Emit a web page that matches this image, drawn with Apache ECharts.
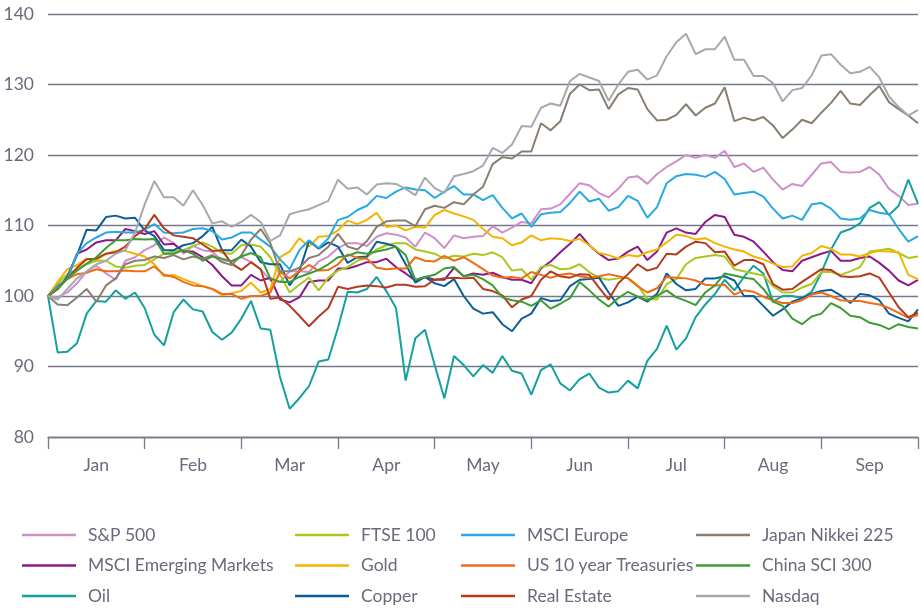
<!DOCTYPE html>
<html>
<head>
<meta charset="utf-8">
<script src="https://cdn.jsdelivr.net/npm/echarts@6/dist/echarts.min.js"></script>
<style>
html,body{margin:0;padding:0;background:#fff;}
#chart{width:921px;height:608px;}
</style>
</head>
<body>
<div id="chart"></div>
<script>
const months = ['Jan','Feb','Mar','Apr','May','Jun','Jul','Aug','Sep'];
const yTicks = [80, 90, 100, 110, 120, 130, 140];

// 10 observations per month, index 0..90
const sp500 = [100,99.8,100.5,101.8,103.5,104.3,103.2,102.3,105,105.5,106.5,107.2,108.3,107.5,106,107.1,106.5,106.3,105,105,105.5,104.8,103.8,102.2,102,103.5,103.5,103.4,104.9,105.6,106.8,107.5,107.5,107.1,108.4,108.9,108.7,108.3,107,109,108.2,106.8,108.6,108.2,108.4,108.5,109.9,109,109.7,110.5,110.3,112.3,112.4,113,114.5,116,115.7,114.6,114,115.2,116.8,117,115.9,117.3,118.3,119.1,120,119.6,120,119.6,120.6,118.3,118.8,117.6,118.2,116.5,115.1,115.9,115.6,117.2,118.8,119,117.6,117.5,117.6,118.3,117.2,115.2,114.2,112.9,113.1];
const msciEM = [100,101,102.5,106,106.6,107.6,107.9,107.9,109.5,109.2,108.8,109.2,107.3,107.4,106.3,106.3,105.5,104.4,102.8,101.5,101.5,103,102.2,102.6,99.5,99.1,99.8,102,102.2,102.2,103.9,103.9,104.3,104.8,104.8,105.3,104.1,103.2,102.2,102.7,102.3,102.3,104,102.8,103.2,103,103.3,102.7,102.3,102.3,101.8,103.9,104.9,106.2,107.4,108.8,107.2,106,105.1,105.3,106.3,107,105.1,106.3,109,109.6,109,108.8,110.5,111.5,111.2,108.7,108.4,107.7,106.3,104.8,103.7,103.5,105,105.5,106,106.4,105,105,105.4,105.6,104.7,103.6,102.2,101.5,102.3];
const oil = [100,92,92.1,93.3,97.5,99.3,99.2,100.8,99.6,100.5,98.3,94.5,93,97.7,99.5,98.1,97.8,94.9,93.8,94.8,96.8,99.3,95.4,95.2,88.5,84,85.5,87.2,90.7,91,95.5,100.6,100.5,101,102.7,100.7,98.3,88,94,95.2,90.2,85.5,91.5,90.2,88.6,90.2,89.1,91.5,89.4,89,86,89.5,90.3,87.6,86.6,88.2,89,87,86.3,86.5,88,86.9,90.8,92.5,95.8,92.4,94,97,98.8,100.3,102.3,100.8,102.7,104.3,103.2,99.2,100,100,99.7,100.6,103.3,106.6,109,109.5,110.3,112.5,113.3,111.5,112.8,116.5,113.1];
const ftse100 = [100,101.8,103.1,103.8,104.5,105,105,104.2,104,104.3,104.4,105.2,106,106.3,106.5,107.1,107.6,107,106.1,106,107.2,107.3,107,105.5,103,100.5,101.6,102.6,100.8,102.6,103.6,104.1,105,105.5,106.6,107.2,107.5,107.5,106.6,106.3,106,105.3,105.7,105.6,106,105.8,106.2,105.5,103.6,103.8,102.3,104.1,104.4,103.8,103.9,104.5,103.4,102.6,102.3,102.5,102.6,101.5,99.6,99.5,101.7,102.4,104.5,105.4,105.6,105.8,105.6,103.8,103.5,103.2,102.9,101.4,100.5,100.5,101.2,101.7,103.4,103.4,103,103.5,104.1,106.3,106.5,106.7,106.1,105.4,105.6];
const gold = [100,102,103.8,104.4,105.3,105.1,106,106.4,106.4,106,105.6,104.5,102.8,103,102.4,101.9,101.4,101,100.1,100.4,100.7,101.9,100.5,101,105.5,106.3,108.2,107,108.4,108.5,109.3,110.7,110.2,110.8,111.8,109.8,110,109.3,109.8,109.7,111.5,112.2,111.7,111.3,110.8,109.5,108.4,108.2,107.2,107.6,108.6,107.9,108.2,108.1,107.8,108.1,107.2,106.1,105.8,105.3,105.8,105.6,106.2,106.6,107.6,108.7,108.5,108,108.2,107.5,107,106.6,106.3,105.6,105.2,104.6,104.1,104.2,105.7,106.1,107.1,106.7,105.9,105.9,105.6,106.1,106.4,106.3,106.2,103,102.4];
const copper = [100,101,102.8,105.8,109.4,109.3,111.2,111.4,111,111.1,109.3,108.5,106.5,106.5,107.2,107.5,108.5,109.8,106.5,106.5,108,107,104.8,104.5,104.5,101.5,103.5,107.8,106.7,107.6,107,104.7,105.5,105.6,107.7,107.4,107,104.5,101.9,102.7,101.8,101.4,102.4,100,98.2,97.5,97.7,96,95,96.8,97.5,99.7,99.3,99.4,101.4,102.3,102.4,102.6,100.5,98.6,99.1,99.9,99.2,100.3,103.2,101.7,100.8,101,102.5,102.5,102.8,102.2,100,100,98.6,97.2,98.1,99.2,99.7,100.3,100.7,100.9,100.1,99,100.3,100.1,99.4,97.5,96.9,96.4,98.1];
const msciEurope = [100,101.5,102.4,106,107.5,108.3,109,109.1,109,109,109.4,110.2,109,108.9,109,109.5,109.6,109.2,108,108.3,109,109,108,107,105.2,103.8,106.5,107.9,106.8,108.2,110.8,111.2,112.2,112.8,114.2,113.9,114.8,115.4,115.1,115,113.9,114.8,115.6,114.4,114.4,113.6,114.3,112.5,111,111.7,109.8,111.6,111.8,111.9,113.2,114.8,113.4,113.8,112.1,112.6,114.2,113.5,111.1,112.6,116,117,117.3,117.2,116.9,117.6,116.6,114.4,114.6,114.8,114.1,112.4,111,111.4,110.8,113,113.2,112.4,111,110.8,111,112.2,111.8,111.6,109.5,107.7,108.5];
const us10y = [100,101.2,102.4,103.1,103.3,103.8,103.5,103.5,103.6,103.5,103.5,104.2,103,102.7,102,101.5,101.4,101,100.3,100.3,99.6,100,100,100.5,103.4,102.5,103.5,104.4,103.6,103.7,104.5,105.9,105.4,105.3,104,103.8,103.9,103.9,105.5,105,104.9,105.7,105,105.5,104.7,103.8,102.9,102.6,102.7,102.5,103.4,103,102.6,103,103.2,102.8,102.6,102.8,103.1,102.8,102.5,101.4,100.5,101.1,102.7,102.6,102.5,102.2,101.6,101.5,101.6,100.2,100.8,100.6,99.9,99.4,99,99,99.4,100.2,100.5,100,99.4,99.3,99.3,99,98.8,98.3,97.6,96.9,97.3];
const realEstate = [100,101,102.5,104,105.2,105.3,106,106.2,107,108.5,109.5,111.5,109.6,108.6,108.4,108.2,107.3,106.4,106.5,104.6,103.7,104.8,103.8,99.6,99.8,98.6,97.2,95.7,97.1,98.3,101.3,101,101.3,101.5,101.4,101.2,101.6,101.6,101.3,101.4,102.3,102.5,102.6,102.5,102.6,101,100.7,100.1,98.4,99.5,100,102.3,103.5,102.8,102.6,103.1,103,101.2,99.5,101.8,103.1,104.5,103.6,104,106,105.9,107,107.7,107.5,106.2,106.3,104.3,105.1,105.1,104.5,101.7,100.9,101,102,102.9,103.8,103.7,102.8,102.7,102.8,103.2,102.6,100.5,98.4,97,97.6];
const nikkei = [100,98.8,98.7,99.8,101,99.2,101.5,102.5,104.5,105,105.1,105.6,105.4,105.8,105.2,105.6,105.3,105.8,104.8,104.4,105.8,108,109.5,107.5,103.5,103.5,104,105.4,105.8,107,108.8,107,106.6,107.8,109.8,110.6,110.7,110.7,109.9,112.3,112.8,112.5,113.3,113,114.4,115.5,118.7,119.7,119.5,120.5,120.5,124.5,123.5,124.8,128.7,130,129.2,129.3,126.5,128.6,129.5,129.3,126.5,124.9,125,125.7,127.2,125.6,126.7,127.3,129.6,124.8,125.3,124.9,125.4,124.2,122.4,123.6,125,124.5,126,127.4,129.1,127.3,127.1,128.5,129.8,127.5,126.5,125.6,124.5];
const china = [100,101,102.5,103.6,104.6,105.5,106.8,107.9,107.9,108.1,108,108.1,106,106,106.5,106,105,105.6,105.3,104.9,105.6,106.1,105.5,102.5,102,102,102.7,103.2,103.7,104.5,105.5,105.7,106.2,106,106.3,106.6,107,105.8,102.3,102.7,103,103.9,104.1,102.8,103,102.4,101.5,99.8,99.4,99.2,98.6,99.4,98.2,98.9,99.7,102,100.8,99.5,98.5,99.7,100.6,99.9,99.4,100,100.8,99.8,99.3,98.7,100.5,101.5,103.2,102.9,102.6,102.4,101,99.2,98.6,96.8,96,97.1,97.5,99,98.3,97.2,97,96.2,95.9,95.3,96,95.6,95.4];
const nasdaq = [100,99.5,101,102.5,103.5,104.5,105,106,106.5,109,113,116.3,114,114,112.8,115,112.9,110.3,110.6,109.8,110.5,111.5,110.5,107.8,108.6,111.6,112,112.3,112.9,113.5,116.5,115.2,115.4,114.4,115.8,116,115.9,115.2,114.3,116.8,115.3,114.6,117,117.3,117.7,118.5,121,120.3,121.5,124.1,124,126.7,127.3,127,130.5,131.5,131,130.5,127.7,130,131.8,132.1,130.7,131.3,134,136,137.2,134.3,135,135,136.8,133.5,133.5,131.2,131.2,130.2,127.6,129.2,129.5,131.3,134.1,134.3,132.8,131.6,131.8,132.5,131,128.3,126.8,125.6,126.4];

const seriesDefs = [
  {name: 'S&P 500', data: sp500, color: '#cf8fc8'},
  {name: 'MSCI Emerging Markets', data: msciEM, color: '#8b1a89'},
  {name: 'Oil', data: oil, color: '#15a0a0'},
  {name: 'FTSE 100', data: ftse100, color: '#a9c81e'},
  {name: 'Gold', data: gold, color: '#f4b400'},
  {name: 'Copper', data: copper, color: '#0b5e97'},
  {name: 'MSCI Europe', data: msciEurope, color: '#28a9e1'},
  {name: 'US 10 year Treasuries', data: us10y, color: '#ef6c16'},
  {name: 'Real Estate', data: realEstate, color: '#b63a1d'},
  {name: 'Japan Nikkei 225', data: nikkei, color: '#8b7e71'},
  {name: 'China SCI 300', data: china, color: '#3f9c35'},
  {name: 'Nasdaq', data: nasdaq, color: '#a7a8b0'}
];

const textColor = '#686b7c';
const gridColor = '#767a88';
const font = 'Lato';
const fontSize = 17.5;

// legend grid: 4 columns x 3 rows
const legendColLeft = [22, 295, 461, 696];
const legendRowTop = [524, 554.5, 585];
const legendLayout = [
  ['S&P 500', 'MSCI Emerging Markets', 'Oil'],
  ['FTSE 100', 'Gold', 'Copper'],
  ['MSCI Europe', 'US 10 year Treasuries', 'Real Estate'],
  ['Japan Nikkei 225', 'China SCI 300', 'Nasdaq']
];
const legends = [];
legendLayout.forEach((col, ci) => {
  col.forEach((name, ri) => {
    legends.push({
      orient: 'horizontal',
      left: legendColLeft[ci],
      top: legendRowTop[ri],
      padding: 0,
      data: [name],
      icon: 'rect',
      itemWidth: 54,
      itemHeight: 2.5,
      itemGap: 0,
      textStyle: {color: textColor, fontSize: fontSize, fontFamily: font, lineHeight: 22, padding: [0, 0, 0, 7]},
      selectedMode: false
    });
  });
});

const chart = echarts.init(document.getElementById('chart'), null, {renderer: 'canvas'});
chart.setOption({
  animation: false,
  backgroundColor: '#ffffff',
  grid: {left: 48, right: 3, top: 14, bottom: 171, containLabel: false},
  legend: legends,
  xAxis: [
    {
      type: 'category',
      data: months,
      boundaryGap: true,
      axisLine: {show: true, lineStyle: {color: gridColor, width: 1.3}},
      axisTick: {show: true, alignWithLabel: false, interval: 0, length: 12, lineStyle: {color: gridColor, width: 1.3}},
      axisLabel: {color: textColor, fontSize: fontSize, fontFamily: font, margin: 19},
      splitLine: {show: false}
    },
    {
      type: 'value',
      min: 0,
      max: 90,
      show: false
    }
  ],
  yAxis: {
    type: 'value',
    min: yTicks[0],
    max: yTicks[yTicks.length - 1],
    interval: 10,
    axisLine: {show: false},
    axisTick: {show: false},
    axisLabel: {color: textColor, fontSize: fontSize, fontFamily: font, margin: 14},
    splitLine: {show: true, lineStyle: {color: gridColor, width: 1.3}}
  },
  series: seriesDefs.map(s => ({
    name: s.name,
    type: 'line',
    xAxisIndex: 1,
    data: s.data.map((v, i) => [i, v]),
    showSymbol: false,
    symbol: 'none',
    lineStyle: {color: s.color, width: 2},
    itemStyle: {color: s.color},
    emphasis: {disabled: true}
  }))
});
</script>
</body>
</html>
